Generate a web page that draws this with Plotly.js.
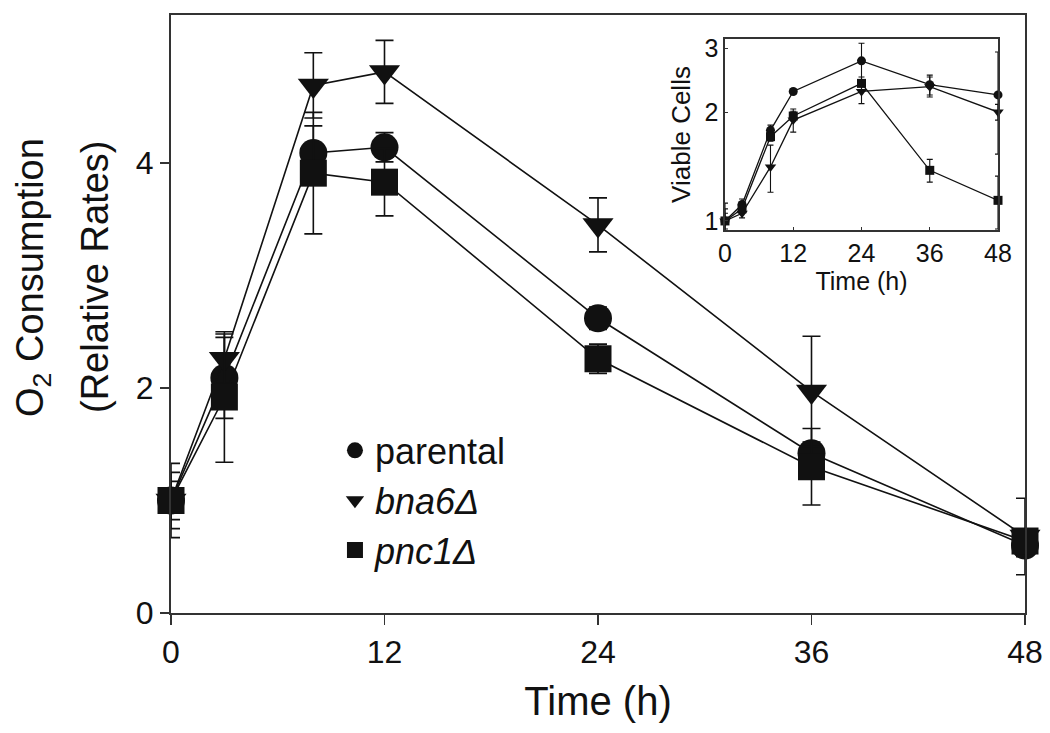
<!DOCTYPE html>
<html>
<head>
<meta charset="utf-8">
<script src="https://cdn.plot.ly/plotly-3.0.1.min.js"></script>
<style>html,body{margin:0;padding:0;background:#fff;}#chart{width:1050px;height:733px;}</style>
</head>
<body>
<div id="chart"></div>
<script>
// ---- Data ----
const timeH = [0, 3, 8, 12, 24, 36, 48];

// Main panel: O2 consumption (relative rates)
const o2Parental = [1.00, 2.09, 4.09, 4.14, 2.62, 1.42, 0.60];
const o2Bna6     = [1.00, 2.26, 4.69, 4.81, 3.45, 1.97, 0.68];
const o2Pnc1     = [1.00, 1.92, 3.91, 3.83, 2.26, 1.30, 0.64];
const o2ParentalErr = [0.25, 0.36, 0.24, 0.13, 0.10, 0.10, 0.10];
const o2Bna6Err     = [0.17, 0.22, 0.29, 0.28, 0.24, 0.49, 0.34];
const o2Pnc1Err     = [0.33, 0.58, 0.54, 0.30, 0.13, 0.34, 0.10];

// Inset: viable cells (log scale)
const vcParental = [1.00, 1.11, 1.78, 2.28, 2.77, 2.38, 2.23];
const vcBna6     = [1.00, 1.05, 1.41, 1.90, 2.28, 2.35, 2.00];
const vcPnc1     = [1.00, 1.08, 1.71, 1.95, 2.40, 1.38, 1.14];
const vcParentalErr = [0.08, 0.04, 0.06, 0.04, 0.33, 0.15, 0.70];
const vcBna6Err     = [0.05, 0.03, 0.21, 0.14, 0.17, 0.15, 0.10];
const vcPnc1Err     = [0.12, 0.03, 0.05, 0.06, 0.10, 0.10, 0.19];

const seriesNames = ['parental', '<i>bna6Δ</i>', '<i>pnc1Δ</i>'];
const xTicks = [0, 12, 24, 36, 48];
const yTicksMain = [0, 2, 4];
const yTicksInset = [1, 2, 3];

// ---- Styling ----
const FONT = 'Liberation Sans, Arial, Helvetica, sans-serif';
const INK = '#111';
const symbols = ['circle', 'triangle-down', 'square'];
const mainSizes = [28, 27, 27];
const insetSizes = [9, 10, 9];

const mainY = [o2Parental, o2Bna6, o2Pnc1];
const mainErr = [o2ParentalErr, o2Bna6Err, o2Pnc1Err];
const insetY = [vcParental, vcBna6, vcPnc1];
const insetErr = [vcParentalErr, vcBna6Err, vcPnc1Err];

const traces = [];
for (let i = 0; i < 3; i++) {
  traces.push({
    x: timeH, y: mainY[i], type: 'scatter', mode: 'lines+markers',
    name: seriesNames[i], showlegend: false, cliponaxis: false,
    line: {color: INK, width: 1.6},
    marker: {symbol: symbols[i], size: mainSizes[i], color: INK},
    error_y: {type: 'data', array: mainErr[i], visible: true, color: INK, thickness: 1.6, width: 9},
    xaxis: 'x', yaxis: 'y'
  });
}
for (let i = 0; i < 3; i++) {
  traces.push({
    x: timeH, y: insetY[i], type: 'scatter', mode: 'lines+markers',
    name: seriesNames[i], showlegend: false, cliponaxis: false,
    line: {color: INK, width: 1.3},
    marker: {symbol: symbols[i], size: insetSizes[i], color: INK},
    error_y: {type: 'data', array: insetErr[i], visible: true, color: INK, thickness: 1.1, width: 3},
    xaxis: 'x2', yaxis: 'y2'
  });
}
// legend entries (markers only)
for (let i = 0; i < 3; i++) {
  traces.push({
    x: [null], y: [null], type: 'scatter', mode: 'markers',
    name: seriesNames[i], showlegend: true,
    marker: {symbol: symbols[i], size: 17, color: INK},
    xaxis: 'x', yaxis: 'y'
  });
}

const layout = {
  width: 1050, height: 733,
  margin: {l: 171, r: 25, t: 15, b: 120, pad: 0},
  paper_bgcolor: '#fff', plot_bgcolor: '#fff',
  font: {family: FONT, color: INK},
  showlegend: true,
  legend: {
    x: 0.192, y: 0.322, xanchor: 'left', yanchor: 'top',
    font: {family: FONT, size: 36, color: INK},
    bgcolor: 'rgba(0,0,0,0)', borderwidth: 0, tracegroupgap: 0,
    itemsizing: 'trace'
  },
  xaxis: {
    domain: [0, 1], range: [0, 48], tickvals: xTicks, ticktext: xTicks.map(String),
    showline: true, mirror: true, linecolor: '#333', linewidth: 2,
    ticks: 'outside', ticklen: 10, tickwidth: 1.6, tickcolor: '#333',
    showgrid: false, zeroline: false,
    tickfont: {family: FONT, size: 32, color: INK},
    title: {text: 'Time (h)', font: {family: FONT, size: 40, color: INK}, standoff: 18}
  },
  yaxis: {
    domain: [0, 1], range: [0, 5.316], tickvals: yTicksMain, ticktext: yTicksMain.map(String),
    showline: true, mirror: true, linecolor: '#333', linewidth: 2,
    ticks: 'outside', ticklen: 9, tickwidth: 1.6, tickcolor: '#333',
    showgrid: false, zeroline: false,
    tickfont: {family: FONT, size: 32, color: INK}
  },
  xaxis2: {
    domain: [0.6487, 0.9684], anchor: 'y2', range: [0, 48],
    tickvals: xTicks, ticktext: xTicks.map(String),
    showline: true, mirror: true, linecolor: '#333', linewidth: 1.6,
    ticks: 'inside', ticklen: 3, tickwidth: 1, tickcolor: '#333',
    showgrid: false, zeroline: false,
    tickfont: {family: FONT, size: 25, color: INK},
    title: {text: 'Time (h)', font: {family: FONT, size: 25, color: INK}, standoff: 4}
  },
  yaxis2: {
    domain: [0.6405, 0.9599], anchor: 'x2', type: 'log', range: [-0.025, 0.503],
    tickvals: yTicksInset, ticktext: yTicksInset.map(String),
    showline: true, mirror: true, linecolor: '#333', linewidth: 1.6,
    ticks: 'inside', ticklen: 3, tickwidth: 1, tickcolor: '#333',
    showgrid: false, zeroline: false,
    tickfont: {family: FONT, size: 25, color: INK},
    title: {text: 'Viable Cells', font: {family: FONT, size: 26, color: INK}, standoff: 6}
  },
  annotations: [
    {text: 'O<sub>2</sub> Consumption', xref: 'paper', yref: 'paper', x: -0.1616, y: 0.5619,
     xanchor: 'center', yanchor: 'middle', textangle: -90, showarrow: false,
     font: {family: FONT, size: 38, color: INK}},
    {text: '(Relative Rates)', xref: 'paper', yref: 'paper', x: -0.089, y: 0.5619,
     xanchor: 'center', yanchor: 'middle', textangle: -90, showarrow: false,
     font: {family: FONT, size: 38, color: INK}}
  ]
};

Plotly.newPlot('chart', traces, layout, {displayModeBar: false, staticPlot: true});
</script>
</body>
</html>
